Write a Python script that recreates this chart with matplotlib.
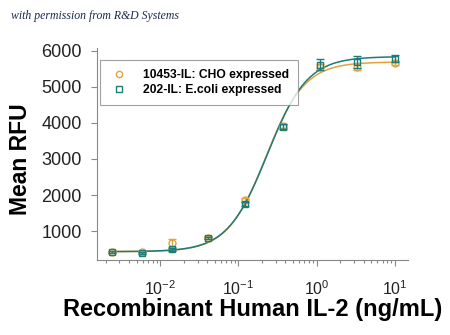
import numpy as np
import matplotlib
matplotlib.use("Agg")
import matplotlib.pyplot as plt
from matplotlib.lines import Line2D
from matplotlib.ticker import LogLocator, NullFormatter

# concentrations (ng/mL) and mean RFU
conc = [0.0024, 0.0058, 0.0140, 0.041, 0.123, 0.37, 1.11, 3.33, 10.0]
cho_rfu = [430, 420, 670, 820, 1860, 3920, 5540, 5560, 5670]
cho_err = [30, 30, 110, 40, 60, 60, 80, 90, 60]
ecoli_rfu = [430, 400, 500, 810, 1760, 3900, 5610, 5690, 5780]
ecoli_err = [30, 30, 40, 40, 60, 60, 150, 160, 100]

# 4PL fit parameters (bottom, top, EC50, hill) estimated from the curves
cho_fit = [430, 5690, 0.225, 1.75]
ecoli_fit = [430, 5840, 0.235, 1.70]

labels = ["10453-IL: CHO expressed", "202-IL: E.coli expressed"]
ORANGE = "#E3A23B"
TEAL = "#1B7C7A"


def four_pl(x, p):
    bottom, top, ec50, hill = p
    return bottom + (top - bottom) / (1 + (ec50 / x) ** hill)


plt.rcParams['font.family'] = ['Liberation Sans', 'DejaVu Sans']
fig = plt.figure(figsize=(4.5, 3.35), dpi=100)
ax = fig.add_axes([0.2156, 0.224, 0.691, 0.633])

xs = np.logspace(np.log10(conc[0]), np.log10(conc[-1]), 300)
ax.plot(xs, four_pl(xs, cho_fit), color=ORANGE, lw=1.1, zorder=2)
ax.plot(xs, four_pl(xs, ecoli_fit), color=TEAL, lw=1.1, zorder=3)

ax.errorbar(conc, cho_rfu, yerr=cho_err, fmt="o", ms=5, mfc="none", mec=ORANGE,
            mew=1.0, ecolor=ORANGE, elinewidth=1.0, capsize=3, zorder=4)
ax.errorbar(conc, ecoli_rfu, yerr=ecoli_err, fmt="s", ms=5, mfc="none", mec=TEAL,
            mew=1.0, ecolor=TEAL, elinewidth=1.0, capsize=3, zorder=5)

ax.set_xscale("log")
ax.set_xlim(10 ** -2.81, 10 ** 1.17)
ax.set_ylim(200, 6080)
ax.set_yticks([1000, 2000, 3000, 4000, 5000, 6000])
ax.xaxis.set_major_locator(LogLocator(base=10, numticks=10))
ax.xaxis.set_minor_locator(LogLocator(base=10, subs=np.arange(2, 10), numticks=10))
ax.xaxis.set_minor_formatter(NullFormatter())

for s in ["top", "right"]:
    ax.spines[s].set_visible(False)
for s in ["left", "bottom"]:
    ax.spines[s].set_color("#888888")
    ax.spines[s].set_linewidth(0.8)

ax.tick_params(axis="both", which="both", colors="#888888", labelcolor="#222222", width=0.8)
ax.tick_params(axis="y", length=4, pad=7, labelsize=13)
ax.tick_params(axis="x", which="major", length=4, pad=10, labelsize=11.5)
ax.tick_params(axis="x", which="minor", length=2.5)

ax.set_ylabel("Mean RFU", fontsize=16.5, fontweight="bold")
ax.yaxis.set_label_coords(-0.209, 0.476)
ax.set_xlabel("Recombinant Human IL-2 (ng/mL)", fontsize=17, fontweight="bold", labelpad=0)

handles = [
    Line2D([], [], ls="none", marker="o", ms=4.5, mfc="none", mec=ORANGE, mew=1.0),
    Line2D([], [], ls="none", marker="s", ms=4.5, mfc="none", mec=TEAL, mew=1.0),
]
leg = ax.legend(handles, labels, loc="upper left", bbox_to_anchor=(0.0096, 0.943),
                borderaxespad=0, prop={"weight": "bold", "size": 8.7}, frameon=True,
                fancybox=False, handletextpad=1.2, borderpad=0.75, labelspacing=0.25,
                handlelength=1.6)
leg.get_frame().set_edgecolor("#888888")
leg.get_frame().set_linewidth(0.8)

fig.text(0.025, 0.952, "with permission from R&D Systems", fontsize=8.5, style="italic",
         family="Liberation Serif", color="#1a2a4a", va="center")

fig.savefig("out.png", dpi=100)
